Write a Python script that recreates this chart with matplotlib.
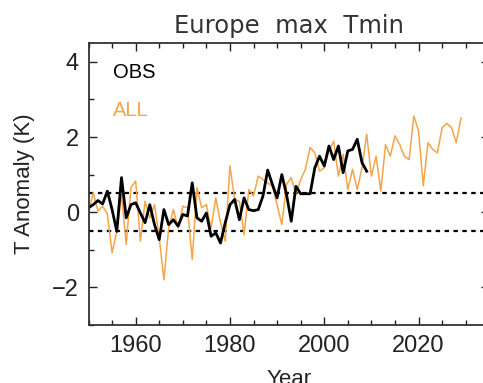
import numpy as np
import matplotlib
matplotlib.use("Agg")
import matplotlib.pyplot as plt
from matplotlib.ticker import MultipleLocator

# observed anomalies, 1950-2009
obs_years = np.arange(1950, 2010)
obs_vals = [0.12, 0.20, 0.31, 0.22, 0.56, 0.07, -0.51, 0.92, -0.15, 0.20,
            0.25, -0.02, -0.28, 0.20, -0.33, -0.73, 0.07, -0.33, -0.20, -0.37,
            -0.06, -0.10, 0.78, -0.15, -0.24, -0.02, -0.64, -0.55, -0.82, -0.28,
            0.20, 0.34, -0.20, 0.38, 0.07, 0.04, 0.07, 0.43, 1.12, 0.74,
            0.38, 1.00, 0.47, -0.24, 0.69, 0.49, 0.49, 0.49, 1.18, 1.49,
            1.23, 1.76, 1.40, 1.76, 1.05, 1.63, 1.67, 1.94, 1.32, 1.09]

# ALL-forcing simulation, 1950-2029
all_years = np.arange(1950, 2030)
all_vals = [-0.02, 0.52, 0.03, 0.16, -0.05, -1.08, -0.51, 0.47, -0.86, 0.65,
            0.83, -0.77, 0.29, -0.15, 0.20, -0.68, -1.80, -0.42, 0.07, -0.42,
            0.16, 0.12, -1.26, 0.65, 0.12, 0.20, -0.42, 0.38, -0.28, -0.77,
            1.23, 0.34, 0.29, -0.60, 0.60, 0.43, 0.96, 0.87, 0.78, 0.69,
            0.20, -0.33, 0.74, 0.92, 0.47, 0.87, 1.14, 1.72, 1.58, 1.09,
            1.18, 1.63, 1.89, 0.96, 1.54, 0.60, 1.14, 0.60, 1.18, 2.07,
            0.96, 1.49, 0.56, 1.80, 1.49, 2.03, 1.80, 1.49, 1.40, 2.56,
            2.16, 0.70, 1.85, 1.67, 1.58, 2.25, 2.36, 2.25, 1.85, 2.51]

orange = '#F5A548'
ink = '#222222'

fig = plt.figure(figsize=(4.83, 3.83), dpi=100)
ax = fig.add_axes([88.5/483, 58/383, 85*4.715/483, 282/383])

ax.axhline(0.5, color='black', lw=1.6, ls=(0, (2, 2)))
ax.axhline(-0.5, color='black', lw=1.6, ls=(0, (2, 2)))
ax.plot(all_years, all_vals, color=orange, lw=1.1)
ax.plot(obs_years, obs_vals, color='black', lw=2.0)

ax.set_xlim(1950, 2035)
ax.set_ylim(-3, 4.5)
ax.xaxis.set_major_locator(MultipleLocator(20))
ax.xaxis.set_minor_locator(MultipleLocator(5))
ax.yaxis.set_major_locator(MultipleLocator(2))
ax.yaxis.set_minor_locator(MultipleLocator(1))
ax.tick_params(which='both', direction='in', top=True, right=True,
               colors=ink, width=1.0)
ax.tick_params(which='major', length=6, labelsize=17, pad=7)
ax.tick_params(which='minor', length=3.5)
for lab in ax.get_xticklabels() + ax.get_yticklabels():
    lab.set_family('Liberation Sans')
for sp in ax.spines.values():
    sp.set_color('#333333')
    sp.set_linewidth(1.3)

ax.set_title('Europe  max  Tmin', fontsize=17.5, family='DejaVu Sans',
             color='#333333', pad=7)
ax.set_ylabel('T Anomaly (K)', fontsize=16, family='Liberation Sans',
              color=ink, labelpad=12)
ax.set_xlabel('Year', fontsize=16, family='Liberation Sans', color=ink,
              labelpad=9)

ax.text(0.062, 0.897, 'OBS', transform=ax.transAxes, fontsize=14.5,
        family='Liberation Sans', color='black', va='center')
ax.text(0.062, 0.762, 'ALL', transform=ax.transAxes, fontsize=14.5,
        family='Liberation Sans', color=orange, va='center')

fig.savefig('out.png', dpi=100)
